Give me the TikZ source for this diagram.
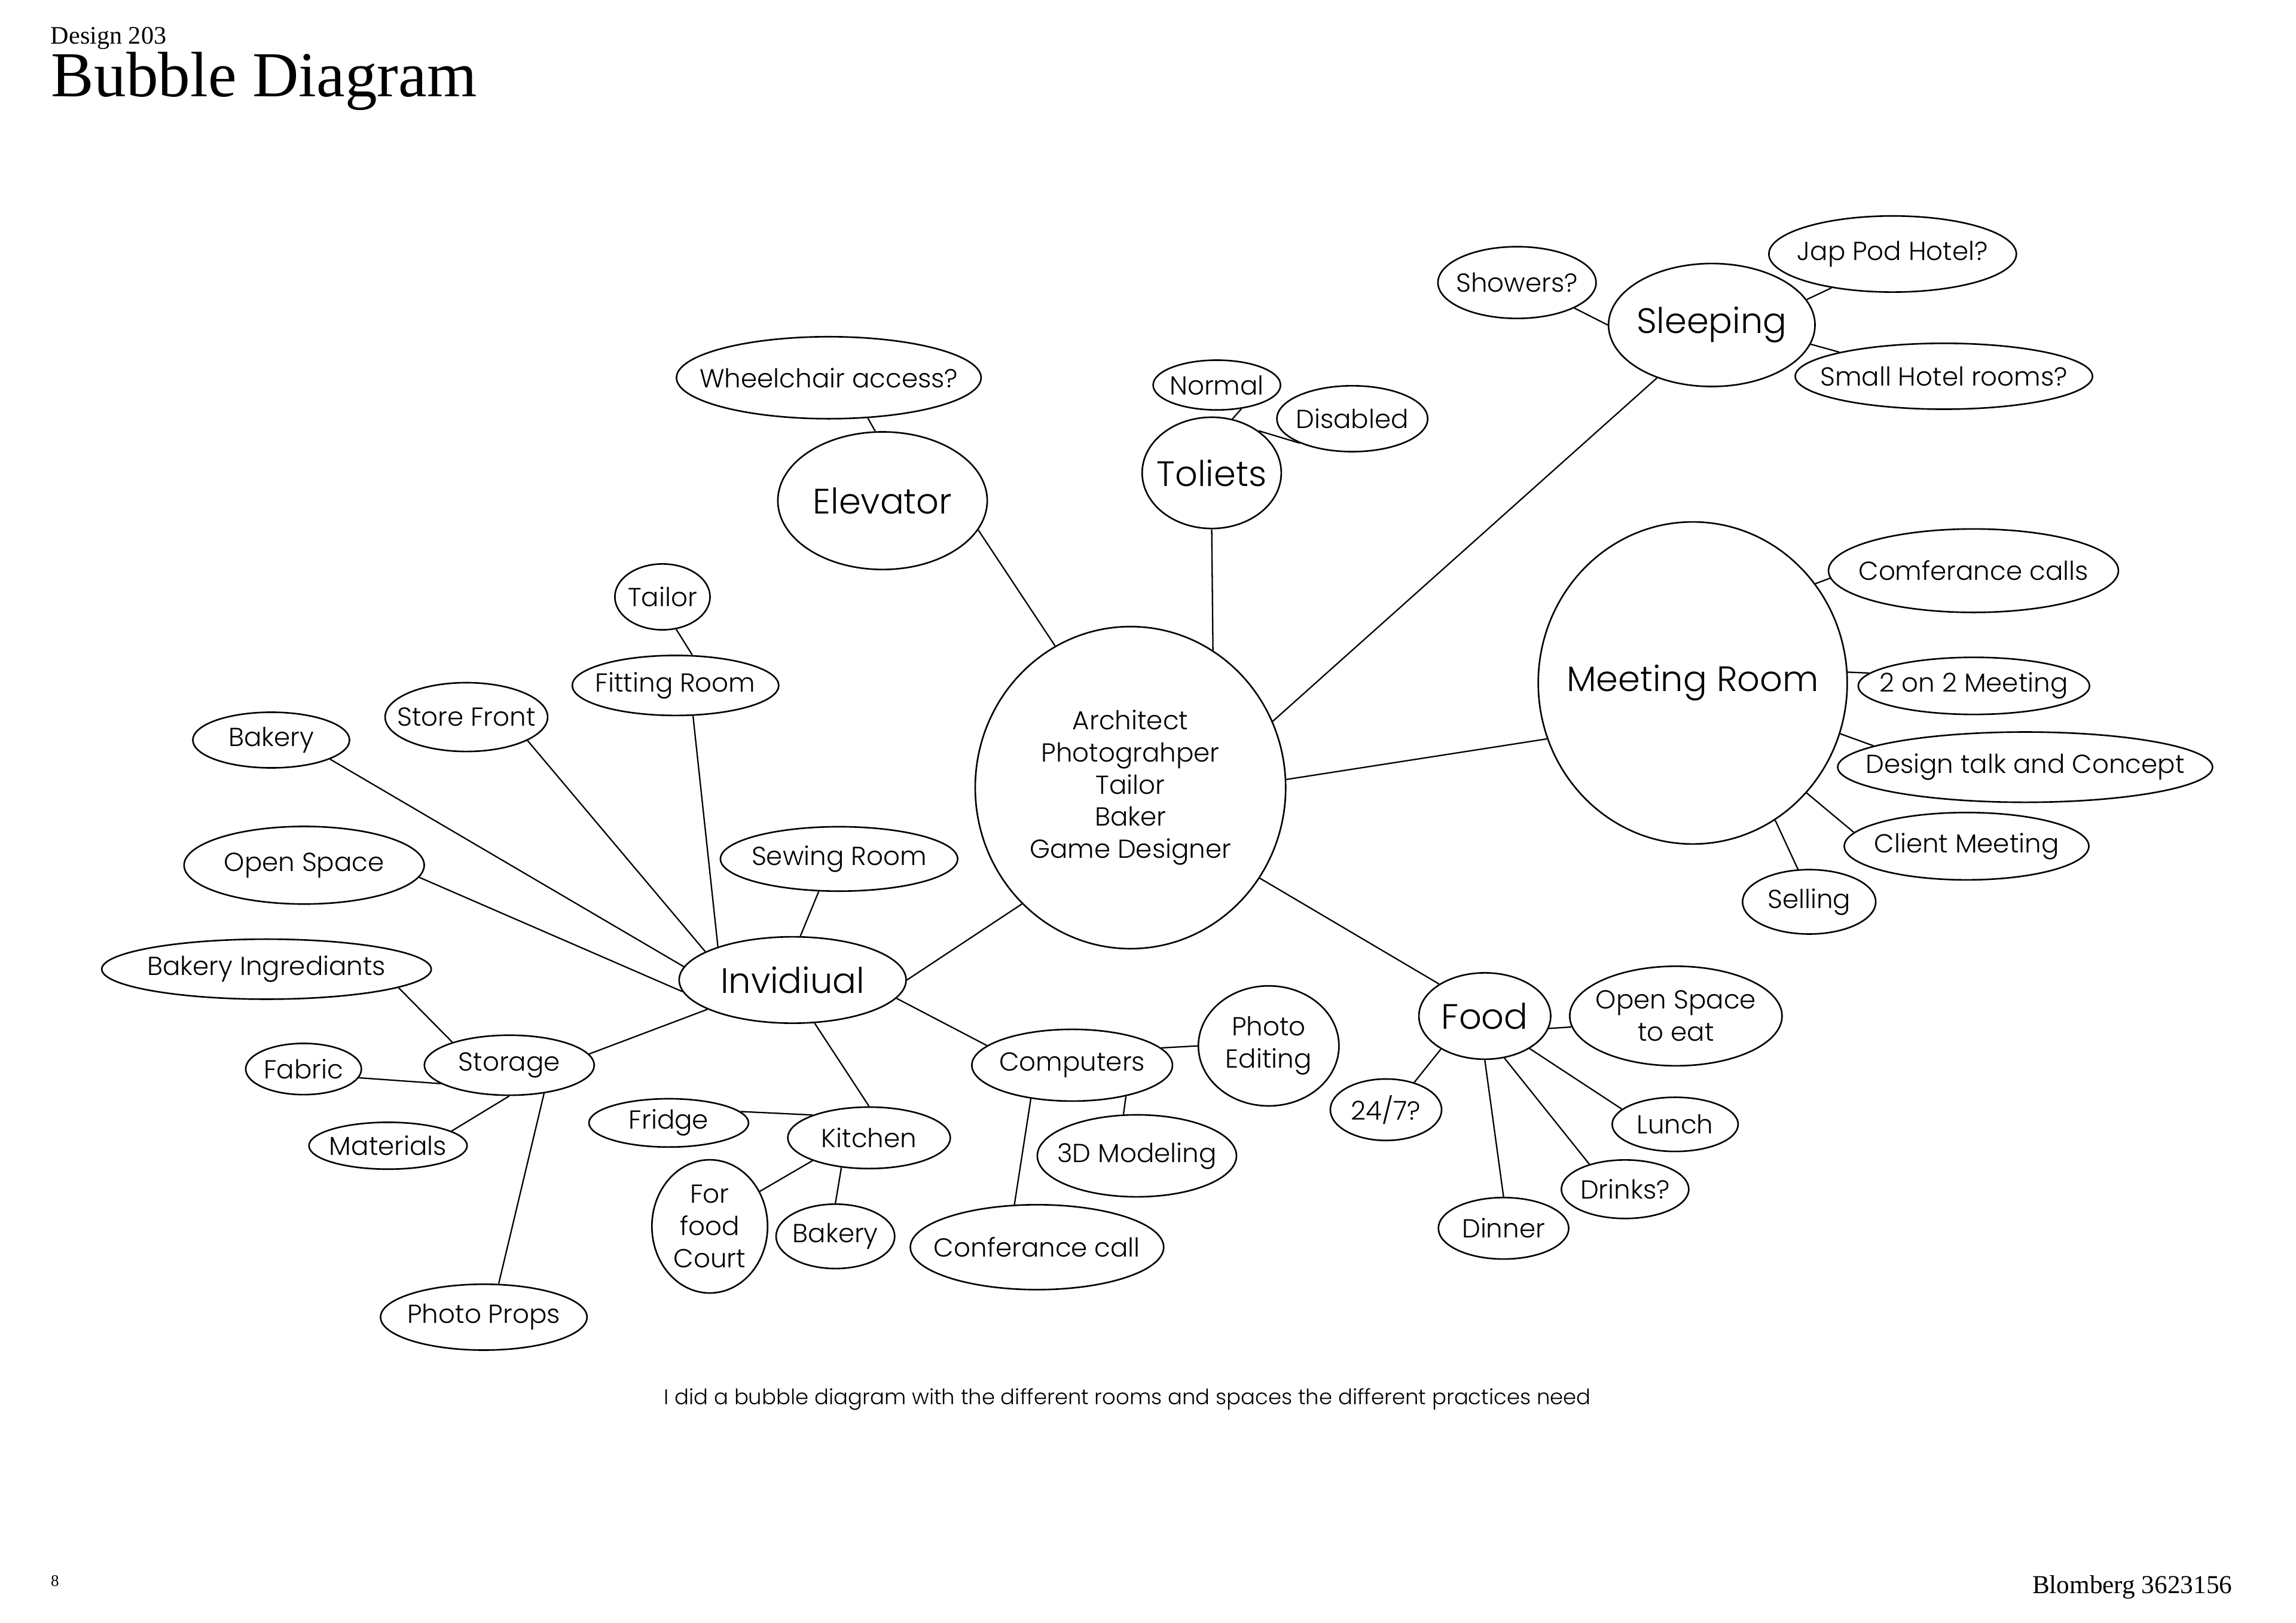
\documentclass[tikz,border=0pt]{standalone}
\usepackage{fontspec}
\setmainfont{Poppins}[UprightFont=* Light]
\newfontfamily\serifhead{Liberation Serif}
\usetikzlibrary{shapes.geometric}

\begin{document}
\begin{tikzpicture}[
            x=0.02449cm, y=-0.02449cm,
            bubble/.style n args={2}{ellipse, draw, line width=0.75pt, inner sep=-4cm, align=center,
                minimum width=#1*0.02449cm, minimum height=#2*0.02449cm, font=\fontsize{12.4}{15.3}\selectfont},
            big/.style={font=\fontsize{16.8}{20}\selectfont},
            link/.style={line width=0.65pt},
            headtext/.style={inner sep=0pt, anchor=base west}
        ]

        \useasboundingbox (0,0) rectangle (1568,1108.6);

        % Heading and page texts
        \node[headtext, font=\serifhead\fontsize{12}{14}\selectfont] (design) at (34.4,30.2) {Design 203};
        \node[headtext, font=\serifhead\fontsize{30.5}{34}\selectfont] (heading) at (34.8,66) {Bubble Diagram};
        \node[headtext, font=\serifhead\fontsize{7.7}{9}\selectfont] (page) at (34.5,1083.3) {8};
        \node[inner sep=0pt, anchor=base east, font=\serifhead\fontsize{12.3}{14}\selectfont] (student) at (1524.7,1088.2) {Blomberg 3623156};
        \node[inner sep=0pt, anchor=base, font=\fontsize{10.1}{12}\selectfont] (caption) at (770,959.4) {I did a bubble diagram with the different rooms and spaces the different practices need};

        % Centre
        \node[bubble={212}{220}] (practices) at (772,538) {Architect\\Photograhper\\Tailor\\Baker\\Game Designer};

        % Top
        \node[bubble={143}{94}, big] (elevator) at (602.7,342) {Elevator};
        \node[bubble={208}{56}] (wheelchair) at (566,258) {Wheelchair access?};
        \node[bubble={95}{76}, big] (toilets) at (827.5,323) {Toliets};
        \node[bubble={87}{34}] (normal) at (831,263) {Normal};
        \node[bubble={103}{45}] (disabled) at (923.5,286) {Disabled};
        \node[bubble={141}{84}, big] (sleeping) at (1169,222) {Sleeping};
        \node[bubble={108}{49}] (showers) at (1036,193) {Showers?};
        \node[bubble={169}{52}] (podhotel) at (1292.5,173.5) {Jap Pod Hotel?};
        \node[bubble={203}{45}] (hotelrooms) at (1327.5,257) {Small Hotel rooms?};

        % Right
        \node[bubble={211}{220}, big] (meeting) at (1156,466.5) {Meeting Room};
        \node[bubble={198}{57}] (confcalls) at (1347.7,389.8) {Comferance calls};
        \node[bubble={158}{39}] (twoontwo) at (1348,468.5) {2 on 2 Meeting};
        \node[bubble={256}{48}] (designtalk) at (1383,524) {Design talk and Concept};
        \node[bubble={167}{46}] (client) at (1343,578) {Client Meeting};
        \node[bubble={91}{44}] (selling) at (1235.5,616) {Selling};

        \node[bubble={90}{59}, big] (food) at (1014,694) {Food};
        \node[bubble={145}{68}] (eatspace) at (1144.5,694) {Open Space\\to eat};
        \node[bubble={76}{42}] (allday) at (946.5,758) {24/7?};
        \node[bubble={86}{37}] (lunch) at (1144,768) {Lunch};
        \node[bubble={87}{40}] (drinks) at (1109.8,812.3) {Drinks?};
        \node[bubble={89}{42}] (dinner) at (1026.8,839) {Dinner};

        % Left
        \node[bubble={155}{59}, big] (individual) at (541.3,669.4) {Invidiual};
        \node[bubble={162}{44}] (sewing) at (573,586.7) {Sewing Room};
        \node[bubble={141}{41}] (fitting) at (461.3,468.2) {Fitting Room};
        \node[bubble={65}{45}] (tailor) at (452.4,407.7) {Tailor};
        \node[bubble={111}{47}] (storefront) at (318.5,489.8) {Store Front};
        \node[bubble={107}{38}] (bakeryA) at (185.2,505.5) {Bakery};
        \node[bubble={164}{53}] (openspace) at (207.7,591) {Open Space};
        \node[bubble={225}{41}] (ingredients) at (182,662) {Bakery Ingrediants};
        \node[bubble={116}{41}] (storage) at (347.8,727.6) {Storage};
        \node[bubble={79}{35}] (fabric) at (207.3,730.2) {Fabric};
        \node[bubble={108}{32}] (materials) at (265,782.6) {Materials};
        \node[bubble={141}{45}] (props) at (330.4,899.7) {Photo Props};
        \node[bubble={111}{42}] (kitchen) at (593.5,777.2) {Kitchen};
        \node[bubble={109}{33}] (fridge) at (456.7,767) {Fridge};
        \node[bubble={79}{91}] (foodcourt) at (484.7,837.7) {For\\food\\Court};
        \node[bubble={81}{44}] (bakeryB) at (570.5,844.5) {Bakery};
        \node[bubble={137}{49}] (computers) at (732.2,727.6) {Computers};
        \node[bubble={96}{82}] (photoedit) at (866.4,714.4) {Photo\\Editing};
        \node[bubble={136}{56}] (modeling) at (776.4,789.5) {3D Modeling};
        \node[bubble={173}{58}] (confcall) at (708.2,851.9) {Conferance call};

        % Links from the centre
        \draw[link] (practices.118) -- (elevator.-17);
        \draw[link] (practices.59) -- (toilets.south);
        \draw[link] (practices.25) -- (sleeping.-136);
        \draw[link] (practices.3) -- (meeting.-159);
        \draw[link] (practices.-35) -- (food.145);
        \draw[link] (practices.-133) -- (individual.0);

        % Top links
        \draw[link] (elevator.96) -- (wheelchair.-46);
        \draw[link] (toilets.69) -- (normal.-44);
        \draw[link] (toilets.42) -- (disabled.-155);
        \draw[link] (sleeping.180) -- (showers.-24);
        \draw[link] (sleeping.15) -- (podhotel.-151);
        \draw[link] (sleeping.-11) -- (hotelrooms.167);

        % Right links
        \draw[link] (meeting.39) -- (confcalls.-177);
        \draw[link] (meeting.4) -- (twoontwo.173);
        \draw[link] (meeting.-19) -- (designtalk.172);
        \draw[link] (meeting.-44) -- (client.173);
        \draw[link] (meeting.-59) -- (selling.109);
        \draw[link] (food.-11) -- (eatspace.-174);
        \draw[link] (food.-143) -- (allday.44);
        \draw[link] (food.-36) -- (lunch.164);
        \draw[link] (food.-65) -- (drinks.145);
        \draw[link] (food.south) -- (dinner.north);

        % Left links
        \draw[link] (individual.80) -- (sewing.-122);
        \draw[link] (individual.156) -- (fitting.-60);
        \draw[link] (fitting.61) -- (tailor.-67);
        \draw[link] (individual.162) -- (storefront.-21);
        \draw[link] (individual.173) -- (bakeryA.-18);
        \draw[link] (individual.-174) -- (openspace.-6);
        \draw[link] (individual.-161) -- (storage.8);
        \draw[link] (storage.158) -- (ingredients.-8);
        \draw[link] (storage.-165) -- (fabric.-9);
        \draw[link] (storage.-90) -- (materials.13);
        \draw[link] (storage.-39) -- (props.66);
        \draw[link] (individual.-63) -- (kitchen.north);
        \draw[link] (kitchen.158) -- (fridge.9);
        \draw[link] (kitchen.-158) -- (foodcourt.35);
        \draw[link] (kitchen.-133) -- (bakeryB.north);
        \draw[link] (individual.-10) -- (computers.167);
        \draw[link] (computers.11) -- (photoedit.west);
        \draw[link] (computers.-30) -- (modeling.108);
        \draw[link] (computers.-141) -- (confcall.118);

    \end{tikzpicture}
\end{document}
